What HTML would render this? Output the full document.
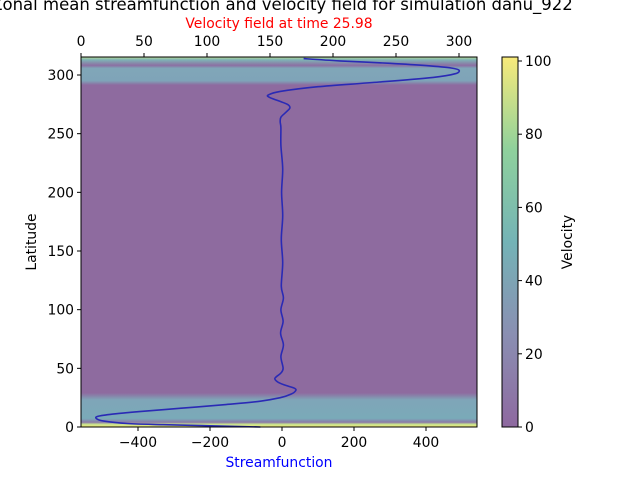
<!DOCTYPE html>
<html><head><meta charset="utf-8"><style>
body{margin:0;background:#fff;font-family:"Liberation Sans","DejaVu Sans",sans-serif}
svg text{font-family:"DejaVu Sans","Liberation Sans",sans-serif}
</style></head><body>
<svg id="c" width="640" height="480" xmlns="http://www.w3.org/2000/svg">
<defs>
<linearGradient id="cb" x1="0" y1="1" x2="0" y2="0">
<stop offset="0" stop-color="#8e69a0"/><stop offset="0.25" stop-color="#8a8fb2"/>
<stop offset="0.5" stop-color="#74b3b6"/><stop offset="0.75" stop-color="#8fd19c"/>
<stop offset="1" stop-color="#f8ea7a"/></linearGradient>
<linearGradient id="bot" x1="0" y1="1" x2="0" y2="0">
<stop offset="0" stop-color="#f5ea78"/><stop offset="0.08" stop-color="#c6e28f"/>
<stop offset="0.14" stop-color="#8a7aa8"/><stop offset="0.25" stop-color="#7aaab8"/>
<stop offset="0.8" stop-color="#7fa5b8"/><stop offset="1" stop-color="#8e6ba0"/></linearGradient>
<linearGradient id="top" x1="0" y1="0" x2="0" y2="1">
<stop offset="0" stop-color="#b8dc96"/><stop offset="0.1" stop-color="#7fb4b6"/>
<stop offset="0.3" stop-color="#8c6fa2"/><stop offset="0.4" stop-color="#80a6b8"/>
<stop offset="0.85" stop-color="#7fa4b8"/><stop offset="1" stop-color="#8e6ba0"/></linearGradient>
</defs>
<text x="282" y="10" text-anchor="middle" font-size="16.5">Zonal mean streamfunction and velocity field for simulation danu_922</text>
<text x="279" y="28" text-anchor="middle" font-size="13.9" fill="red">Velocity field at time 25.98</text>
<g id="plot">
<rect x="81" y="57" width="396" height="370" fill="#8e6b9f"/>
<rect x="81" y="393" width="396" height="34" fill="url(#bot)"/>
<rect x="81" y="57" width="396" height="28" fill="url(#top)"/>
</g>
<g id="lines"></g>
<rect x="81" y="57" width="396" height="370" fill="none" stroke="#000" stroke-width="1"/>
<g id="axes"></g>
<text x="279" y="467" text-anchor="middle" font-size="13.9" fill="blue">Streamfunction</text>
<text transform="translate(36,242) rotate(-90)" text-anchor="middle" font-size="13.9">Latitude</text>
<rect x="502" y="57" width="16" height="370" fill="url(#cb)" stroke="#000" stroke-width="1"/>
<text transform="translate(572,242) rotate(-90)" text-anchor="middle" font-size="13.9">Velocity</text>
</svg>
<script>
const lat=[0,1,2,3,5,7,9,11,13,16,19,22,25,28,31,33,35,38,41,43,46,50,60,70,80,90,100,110,120,140,160,180,200,220,240,255,260,264,268,272,275,278,281,283,286,290,294,298,301,304,306,308,310,312,314];
const psi=[-60,-200,-330,-430,-495,-515,-512,-470,-400,-280,-160,-60,-5,25,38,35,15,-10,-20,-15,-3,3,-3,4,-4,3,-3,4,-2,2,-2,2,-1,2,-3,-3,-5,-3,10,22,15,-10,-35,-38,-5,100,270,420,480,492,470,400,300,160,60];
const xTicks=[-400,-200,0,200,400];
const yTicks=[0,50,100,150,200,250,300];
const topTicks=[0,50,100,150,200,250,300];
const cbTicks=[0,20,40,60,80,100];
const X=v=>282+(v)*0.36, Y=v=>427-v*1.1733, TX=v=>81+v*1.26, CY=v=>427-v*3.66;
const NS='http://www.w3.org/2000/svg';
const mk=(t,a,p)=>{const e=document.createElementNS(NS,t);for(const k in a)e.setAttribute(k,a[k]);p.appendChild(e);return e;};
const L=document.getElementById('lines'),A=document.getElementById('axes');
const P=lat.map((l,i)=>[X(psi[i]),Y(l)]);
let d='M'+P[0][0].toFixed(1)+','+P[0][1].toFixed(1);
for(let i=0;i<P.length-1;i++){
 const p0=P[Math.max(0,i-1)],p1=P[i],p2=P[i+1],p3=P[Math.min(P.length-1,i+2)];
 const c1=[p1[0]+(p2[0]-p0[0])/6,p1[1]+(p2[1]-p0[1])/6],c2=[p2[0]-(p3[0]-p1[0])/6,p2[1]-(p3[1]-p1[1])/6];
 d+=' C'+c1.map(v=>v.toFixed(1)).join(',')+' '+c2.map(v=>v.toFixed(1)).join(',')+' '+p2.map(v=>v.toFixed(1)).join(',');
}
const pl=mk('path',{d:d,fill:'none',stroke:'#2a2ab5','stroke-width':1.6,'stroke-linejoin':'round'},L);


function tick(x1,y1,x2,y2,tx,ty,lab,anchor,name){
 const g=mk('g',{},A);
 
 
 mk('line',{x1:x1,y1:y1,x2:x2,y2:y2,stroke:'#000'},g);
 const t=mk('text',{x:tx,y:ty,'text-anchor':anchor,'font-size':13.9},g);t.textContent=lab;}
xTicks.forEach(v=>tick(X(v),427,X(v),431,X(v),447,v<0?'\u2212'+(-v):v,'middle','x-tick-'+v));
yTicks.forEach(v=>tick(81,Y(v),77,Y(v),74,Y(v)+5,v,'end','y-tick-'+v));
topTicks.forEach(v=>tick(TX(v),57,TX(v),53,TX(v),46,v,'middle','top-tick-'+v));
cbTicks.forEach(v=>tick(518,CY(v),522,CY(v),525,CY(v)+5,v,'start','colorbar-tick-'+v));
</script>
</body></html>
